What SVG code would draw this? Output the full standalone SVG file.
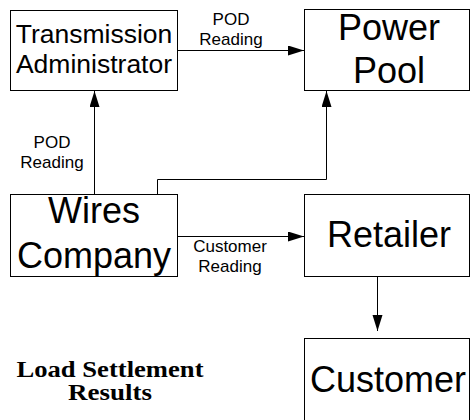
<svg xmlns="http://www.w3.org/2000/svg" width="470" height="420" viewBox="0 0 470 420">
  <defs>
    <marker id="arrow" markerUnits="userSpaceOnUse" markerWidth="17" markerHeight="12" refX="16" refY="5" orient="auto">
      <path d="M0,0 L16,5 L0,10 z" fill="#000"/>
    </marker>
    <style>
      .box { fill: #fff; stroke: #000; stroke-width: 1; }
      .big { font-family: "Liberation Sans", Arial, sans-serif; font-size: 36px; fill: #000; text-anchor: middle; }
      .mid { font-family: "Liberation Sans", Arial, sans-serif; font-size: 26.5px; fill: #000; text-anchor: middle; }
      .lbl { font-family: "Liberation Sans", Arial, sans-serif; font-size: 17px; fill: #000; text-anchor: middle; }
      .title { font-family: "Liberation Serif", "Times New Roman", serif; font-size: 23px; font-weight: bold; fill: #000; text-anchor: middle; }
      .conn { fill: none; stroke: #000; stroke-width: 1; }
    </style>
  </defs>

  <rect width="470" height="420" fill="#fff"/>

  <!-- connectors -->
  <g id="connectors">
    <path class="conn" d="M178,50.5 H304" marker-end="url(#arrow)"/>
    <path class="conn" d="M94.5,194 V91" marker-end="url(#arrow)"/>
    <path class="conn" d="M157.5,194 V179.5 H326.5 V91" marker-end="url(#arrow)"/>
    <path class="conn" d="M178,236.5 H304" marker-end="url(#arrow)"/>
    <path class="conn" d="M377.5,277 V331" marker-end="url(#arrow)"/>
    <text class="lbl" x="231" y="25">POD</text>
    <text class="lbl" x="231" y="45">Reading</text>
    <text class="lbl" x="52" y="148">POD</text>
    <text class="lbl" x="52" y="168">Reading</text>
    <text class="lbl" x="230" y="252">Customer</text>
    <text class="lbl" x="230" y="272">Reading</text>
  </g>

  <g id="transmission-administrator">
    <rect class="box" x="10.5" y="10.5" width="167" height="80"/>
    <text class="mid" x="94" y="43">Transmission</text>
    <text class="mid" x="94" y="73">Administrator</text>
  </g>

  <g id="power-pool">
    <rect class="box" x="304.5" y="9.5" width="165" height="81"/>
    <text class="big" x="389" y="40">Power</text>
    <text class="big" x="389" y="83">Pool</text>
  </g>

  <g id="wires-company">
    <rect class="box" x="10.5" y="194.5" width="167" height="82"/>
    <text class="big" x="94" y="223">Wires</text>
    <text class="big" x="94" y="268">Company</text>
  </g>

  <g id="retailer">
    <rect class="box" x="304.5" y="194.5" width="165" height="82"/>
    <text class="big" x="389" y="247">Retailer</text>
  </g>

  <g id="customer">
    <rect class="box" x="304.5" y="338.5" width="165" height="100"/>
    <text class="big" x="388" y="392">Customer</text>
  </g>

  <g id="load-settlement-results">
    <text class="title" x="110" y="377" textLength="187" lengthAdjust="spacingAndGlyphs">Load Settlement</text>
    <text class="title" x="110" y="400" textLength="84" lengthAdjust="spacingAndGlyphs">Results</text>
  </g>
</svg>
